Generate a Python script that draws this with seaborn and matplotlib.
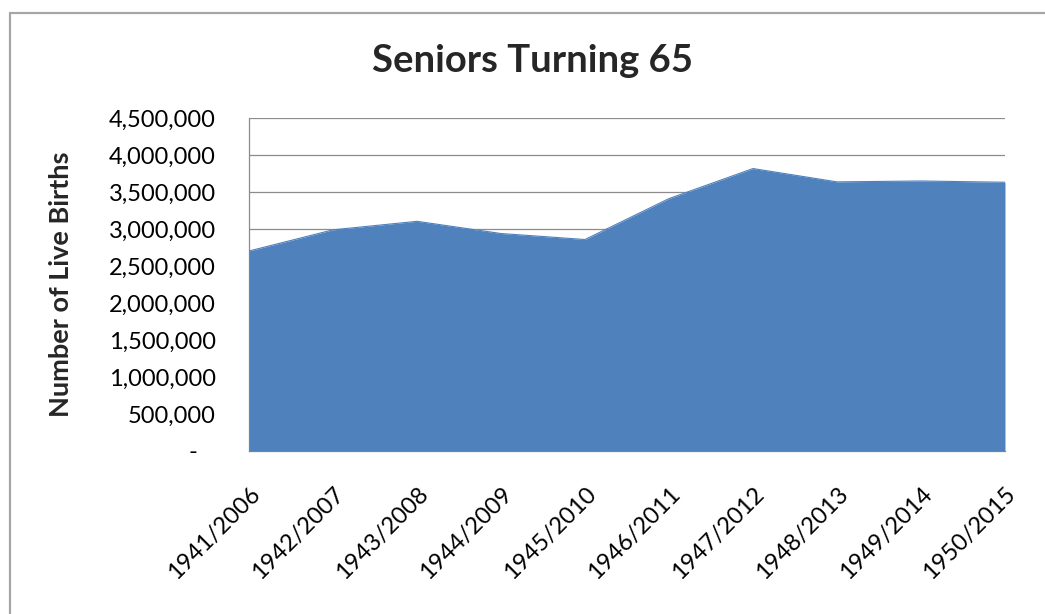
import matplotlib
matplotlib.use("Agg")
import matplotlib.pyplot as plt
from matplotlib.lines import Line2D
from matplotlib.ticker import FuncFormatter, MultipleLocator
import numpy as np
import pandas as pd
import seaborn as sns

# ---- data ----
years = ['1941/2006', '1942/2007', '1943/2008', '1944/2009', '1945/2010',
         '1946/2011', '1947/2012', '1948/2013', '1949/2014', '1950/2015']
births = [2703000, 2989000, 3104000, 2939000, 2858000,
          3411000, 3817000, 3637000, 3649000, 3632000]

df = pd.DataFrame({'Year': years, 'Births': births})
df['pos'] = np.arange(len(df))

sns.set_style("white")
plt.rcParams['font.family'] = ['Lato', 'DejaVu Sans']

BLUE = '#4F81BD'
GRID = '#8C8C8C'

fig = plt.figure(figsize=(10.45, 6.14), dpi=100)
ax = fig.add_axes([0.2383, 0.2655, 0.7234, 0.5423])

# area: outline via seaborn, fill underneath
sns.lineplot(data=df, x='pos', y='Births', ax=ax, color=BLUE, linewidth=0.8, zorder=3)
ax.fill_between(df['pos'], 0, df['Births'], color=BLUE, linewidth=0, zorder=3)

ax.set_xlim(0, len(df) - 1)
ax.set_ylim(0, 4500000)
ax.yaxis.set_major_locator(MultipleLocator(500000))
ax.yaxis.set_major_formatter(FuncFormatter(lambda v, p: '-   ' if v == 0 else f'{v:,.0f}'))
ax.set_xticks(df['pos'])
ax.set_xticklabels(df['Year'], rotation=45, ha='right', va='top', rotation_mode='anchor')

ax.grid(axis='y', color=GRID, linewidth=0.9, zorder=1)
ax.set_axisbelow(True)
for s in ['top', 'right']:
    ax.spines[s].set_visible(False)
for s in ['left', 'bottom']:
    ax.spines[s].set_color(GRID)
    ax.spines[s].set_linewidth(0.9)

ax.tick_params(axis='y', length=0, pad=24, labelsize=17, labelcolor='black')
ax.tick_params(axis='x', length=0, pad=23, labelsize=17, labelcolor='black')
ax.set_xlabel('')
ax.set_ylabel('')

fig.text(0.058, 0.5375, 'Number of Live Births', rotation=90, ha='center', va='center',
         fontsize=19.5, fontweight='bold')
fig.text(0.51, 0.9, 'Seniors Turning 65', ha='center', va='center',
         fontsize=27.5, fontweight='bold')

# outer chart frame: only left and top edges are inside the screenshot
x0 = 9.5 / 1045
y0 = 1 - 12.5 / 614
fig.add_artist(Line2D([x0, x0], [-0.1, y0], transform=fig.transFigure,
                      color='#A6A6A6', linewidth=1.6))
fig.add_artist(Line2D([x0, 1.1], [y0, y0], transform=fig.transFigure,
                      color='#A6A6A6', linewidth=1.6))

fig.savefig('out.png', dpi=100)
